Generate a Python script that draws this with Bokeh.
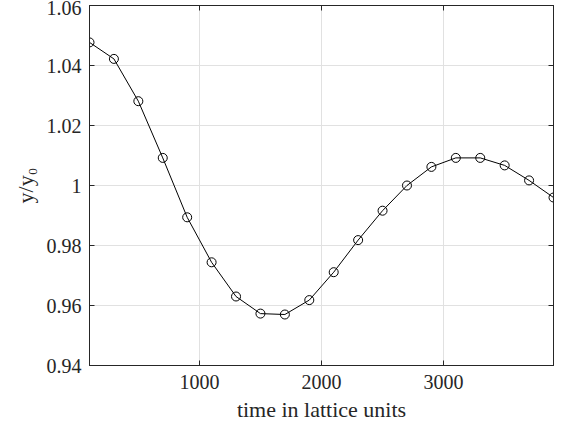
from bokeh.plotting import figure
from bokeh.models import LinearAxis, FixedTicker, Range1d
from bokeh.embed import file_html
from bokeh.resources import INLINE

# data
time = [100, 300, 500, 700, 900, 1100, 1300, 1500, 1700, 1900,
        2100, 2300, 2500, 2700, 2900, 3100, 3300, 3500, 3700, 3900]
ratio = [1.0477, 1.0422, 1.0281, 1.0092, 0.9894, 0.9744, 0.9630, 0.9573, 0.9570, 0.9618,
         0.9711, 0.9818, 0.9916, 1.0000, 1.0062, 1.0092, 1.0092, 1.0067, 1.0017, 0.9960]
x_ticks = [1000, 2000, 3000]
y_ticks = [0.94, 0.96, 0.98, 1.0, 1.02, 1.04, 1.06]
y_tick_labels = ["0.94", "0.96", "0.98", "1", "1.02", "1.04", "1.06"]

FONT = "Liberation Serif"
AX = "#262626"

p = figure(width=562, height=426, output_backend="svg", toolbar_location=None,
           x_range=Range1d(100, 3900), y_range=Range1d(0.94, 1.06),
           min_border_left=89, min_border_right=9, min_border_top=5, min_border_bottom=61)
p.background_fill_color = "white"
p.border_fill_color = "white"
p.outline_line_color = AX
p.outline_line_width = 1

p.line(time, ratio, line_color="black", line_width=1)
p.scatter(time, ratio, marker="circle", size=9, fill_color=None, line_color="black", line_width=1)

p.xgrid.ticker = FixedTicker(ticks=x_ticks)
p.ygrid.ticker = FixedTicker(ticks=y_ticks)
for g in (p.xgrid, p.ygrid):
    g.grid_line_color = "#e1e1e1"
    g.grid_line_width = 1

def style(ax, show_labels, ticks):
    ax.axis_line_color = AX
    ax.axis_line_width = 1
    ax.major_tick_line_color = AX
    ax.major_tick_in = 5
    ax.major_tick_out = 0
    ax.minor_tick_line_color = None
    ax.major_label_text_font = FONT
    ax.major_label_text_color = AX
    ax.axis_label_text_font = FONT
    ax.axis_label_text_color = AX
    ax.axis_label_text_font_style = "normal"
    if show_labels:
        ax.major_label_text_font_size = "20px"
        ax.axis_label_text_font_size = "22px"
    else:
        ax.major_label_overrides = {t: "" for t in ticks}
        ax.major_label_text_font_size = "1px"
        ax.major_label_standoff = 0

xa = p.xaxis[0]
ya = p.yaxis[0]
xa.ticker = FixedTicker(ticks=x_ticks)
ya.ticker = FixedTicker(ticks=y_ticks)
style(xa, True, x_ticks)
style(ya, True, y_ticks)
ya.major_label_overrides = {t: s for t, s in zip(y_ticks, y_tick_labels)}
xa.axis_label = "time in lattice units"
ya.axis_label = "y/y\u2080"
xa.major_label_standoff = 9
ya.major_label_standoff = 8
xa.axis_label_standoff = 5
ya.axis_label_standoff = 6

ra = LinearAxis(ticker=FixedTicker(ticks=y_ticks))
ta = LinearAxis(ticker=FixedTicker(ticks=x_ticks))
style(ra, False, y_ticks)
style(ta, False, x_ticks)
p.add_layout(ra, "right")
p.add_layout(ta, "above")

open("out.html", "w").write(file_html(p, INLINE))
